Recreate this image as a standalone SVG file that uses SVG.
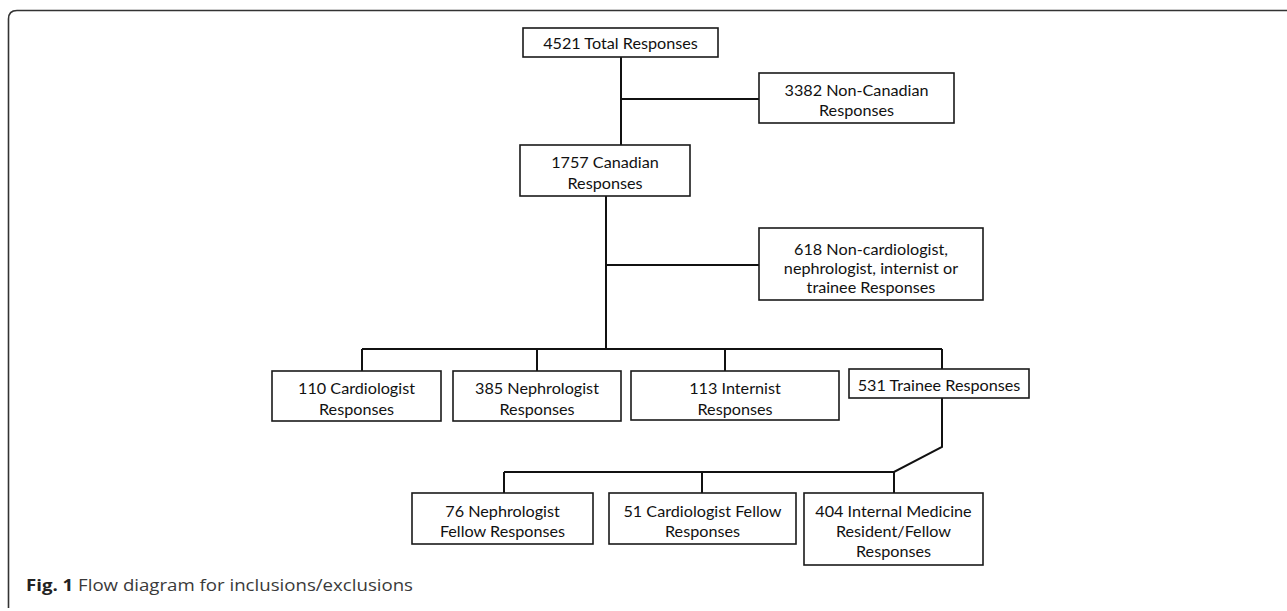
<svg xmlns="http://www.w3.org/2000/svg" width="1287" height="611" viewBox="0 0 1287 611">
<style>
.b{fill:#fff;stroke:#1a1a1a;stroke-width:1.6}
.t{font-family:Lato,"Open Sans",sans-serif;font-size:16.2px;fill:#111;text-anchor:middle}
.c{fill:none;stroke:#111;stroke-width:2}
.cap{font-family:"Open Sans","Noto Sans",sans-serif;font-size:15.5px;fill:#3a3a3a}
</style>
<rect width="1287" height="611" fill="#fff"/>
<path d="M8.5,608 L8.5,19 Q8.5,10.5 17,10.5 L1287,10.5" fill="none" stroke="#333" stroke-width="1.6"/>
<g id="connectors">
<path class="c" d="M621,57 V145"/>
<path class="c" d="M621,99 H759"/>
<path class="c" d="M606,196 V349"/>
<path class="c" d="M606,265 H759"/>
<path class="c" d="M362,349 H942 M362,349 V371 M537,349 V371 M725,349 V371 M942,349 V369"/>
<path class="c" d="M942,398 V447 L894,472 H504 M504,472 V493 M702,472 V493 M894,472 V493"/>
</g>
<g id="n1"><rect class="b" x="523" y="28" width="195" height="29"/><text class="t" x="620.5" y="49">4521 Total Responses</text></g>
<g id="n2"><rect class="b" x="759" y="73" width="195" height="50"/><text class="t" x="856.5" y="96">3382 Non-Canadian</text><text class="t" x="856.5" y="116">Responses</text></g>
<g id="n3"><rect class="b" x="520" y="145" width="170" height="51"/><text class="t" x="605" y="168">1757 Canadian</text><text class="t" x="605" y="189">Responses</text></g>
<g id="n4"><rect class="b" x="759" y="228" width="224" height="72"/><text class="t" x="871" y="255">618 Non-cardiologist,</text><text class="t" x="871" y="274">nephrologist, internist or</text><text class="t" x="871" y="293">trainee Responses</text></g>
<g id="n5"><rect class="b" x="272" y="371" width="169" height="50"/><text class="t" x="356.5" y="394">110 Cardiologist</text><text class="t" x="356.5" y="415">Responses</text></g>
<g id="n6"><rect class="b" x="453" y="371" width="168" height="50"/><text class="t" x="537" y="394">385 Nephrologist</text><text class="t" x="537" y="415">Responses</text></g>
<g id="n7"><rect class="b" x="631" y="371" width="208" height="49"/><text class="t" x="735" y="394">113 Internist</text><text class="t" x="735" y="415">Responses</text></g>
<g id="n8"><rect class="b" x="849" y="369" width="180" height="29"/><text class="t" x="939" y="391">531 Trainee Responses</text></g>
<g id="n9"><rect class="b" x="412" y="493" width="181" height="51"/><text class="t" x="502.5" y="517">76 Nephrologist</text><text class="t" x="502.5" y="537">Fellow Responses</text></g>
<g id="n10"><rect class="b" x="609" y="493" width="187" height="51"/><text class="t" x="702.5" y="517">51 Cardiologist Fellow</text><text class="t" x="702.5" y="537">Responses</text></g>
<g id="n11"><rect class="b" x="804" y="493" width="179" height="72"/><text class="t" x="893.5" y="517">404 Internal Medicine</text><text class="t" x="893.5" y="537">Resident/Fellow</text><text class="t" x="893.5" y="557">Responses</text></g>
<text class="cap" x="26" y="591" textLength="387" lengthAdjust="spacingAndGlyphs"><tspan font-weight="bold" fill="#222">Fig. 1</tspan> Flow diagram for inclusions/exclusions</text>
</svg>
